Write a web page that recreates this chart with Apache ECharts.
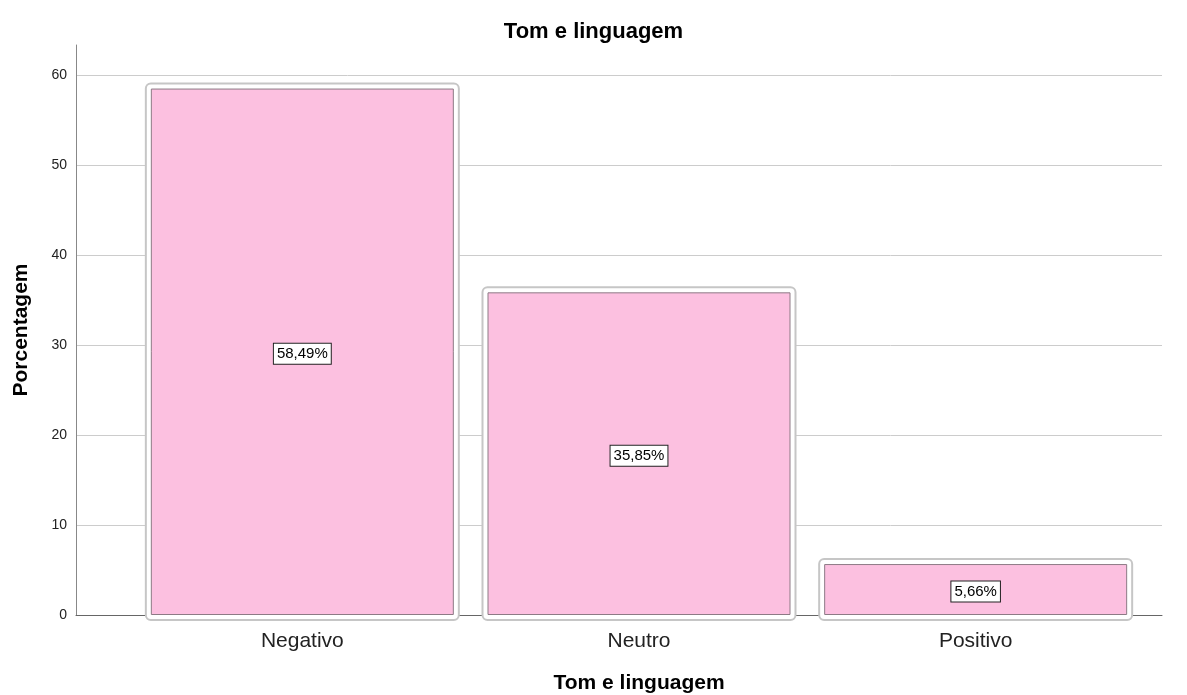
<!DOCTYPE html>
<html>
<head>
<meta charset="utf-8">
<title>Tom e linguagem</title>
<script src="https://cdn.jsdelivr.net/npm/echarts@6/dist/echarts.min.js"></script>
<style>
  html, body { margin: 0; padding: 0; background: #fff; }
  #chart { width: 1187px; height: 695px; }
</style>
</head>
<body>
<div id="chart"></div>
<script>
// Percentages per category of "Tom e linguagem"
var CATEGORIES = ['Negativo', 'Neutro', 'Positivo'];
var PERCENTAGES = [58.49, 35.85, 5.66];
var Y_TICKS = [0, 10, 20, 30, 40, 50, 60];

var FONT = '"Liberation Sans", Arial, sans-serif';
var BAR_WIDTH = 303;
var FRAME_PAD = 5;
var Y_MAX = 63.33;

function pct(v) {
  return v.toFixed(2).replace('.', ',') + '%';
}

var chart = echarts.init(document.getElementById('chart'), null, { renderer: 'canvas' });

chart.setOption({
  backgroundColor: '#ffffff',
  animation: false,
  textStyle: { fontFamily: FONT },
  title: {
    text: 'Tom e linguagem',
    left: 'center',
    top: 16,
    textStyle: { fontFamily: FONT, fontSize: 22, fontWeight: 'bold', color: '#000' }
  },
  grid: [
    // frame grid: y axis, gridlines and baseline across the full width
    { left: 76, right: 25, top: 45, bottom: 80, outerBoundsMode: 'none' },
    // category band area holding the bars
    { left: 134, right: 43, top: 45, bottom: 80, outerBoundsMode: 'none' }
  ],
  xAxis: [
    {
      gridIndex: 0,
      type: 'value',
      min: 0,
      max: 1,
      axisLine: { show: true, onZero: true, lineStyle: { color: '#666', width: 1 } },
      axisTick: { show: false },
      axisLabel: { show: false },
      splitLine: { show: false }
    },
    {
      gridIndex: 1,
      type: 'category',
      data: CATEGORIES,
      axisLine: { show: false },
      axisTick: { show: false },
      axisLabel: { fontFamily: FONT, fontSize: 21, color: '#222', margin: 16 },
      name: 'Tom e linguagem',
      nameLocation: 'middle',
      nameGap: 58,
      nameTextStyle: { fontFamily: FONT, fontSize: 21, fontWeight: 'bold', color: '#000' }
    }
  ],
  yAxis: [
    {
      gridIndex: 0,
      type: 'value',
      min: Y_TICKS[0],
      max: Y_MAX,
      interval: Y_TICKS[1] - Y_TICKS[0],
      axisLine: { show: true, lineStyle: { color: '#888', width: 1 } },
      axisTick: { show: false },
      axisLabel: {
        showMaxLabel: false,
        fontFamily: FONT,
        fontSize: 14,
        color: '#222',
        margin: 9
      },
      splitLine: { show: true, showMinLine: false, showMaxLine: false, lineStyle: { color: '#cccccc', width: 1 } },
      name: 'Porcentagem',
      nameLocation: 'middle',
      nameGap: 44,
      nameTextStyle: { fontFamily: FONT, fontSize: 21, fontWeight: 'bold', color: '#000' }
    },
    {
      gridIndex: 1,
      type: 'value',
      min: Y_TICKS[0],
      max: Y_MAX,
      show: false
    }
  ],
  series: [
    {
      // rounded light frame around each bar
      type: 'custom',
      xAxisIndex: 1,
      yAxisIndex: 1,
      z: 1,
      silent: true,
      data: PERCENTAGES.map(function (v, i) { return [i, v]; }),
      renderItem: function (params, api) {
        var top = api.coord([api.value(0), api.value(1)]);
        var base = api.coord([api.value(0), 0]);
        var half = BAR_WIDTH / 2 + FRAME_PAD;
        return {
          type: 'rect',
          shape: {
            x: top[0] - half,
            y: top[1] - FRAME_PAD,
            width: half * 2,
            height: base[1] - top[1] + FRAME_PAD * 2,
            r: 5
          },
          style: { fill: '#ffffff', stroke: '#c6c6c6', lineWidth: 2 }
        };
      }
    },
    {
      type: 'bar',
      xAxisIndex: 1,
      yAxisIndex: 1,
      z: 2,
      barWidth: BAR_WIDTH,
      data: PERCENTAGES,
      itemStyle: { color: '#fcc0e0', borderColor: '#8d7a85', borderWidth: 1 },
      label: {
        show: true,
        position: 'inside',
        offset: [0, 2],
        formatter: function (p) { return pct(p.value); },
        fontFamily: FONT,
        fontSize: 15,
        color: '#000',
        backgroundColor: '#ffffff',
        borderColor: '#222',
        borderWidth: 1,
        padding: [3, 3, 2, 3]
      }
    }
  ]
});
</script>
</body>
</html>
